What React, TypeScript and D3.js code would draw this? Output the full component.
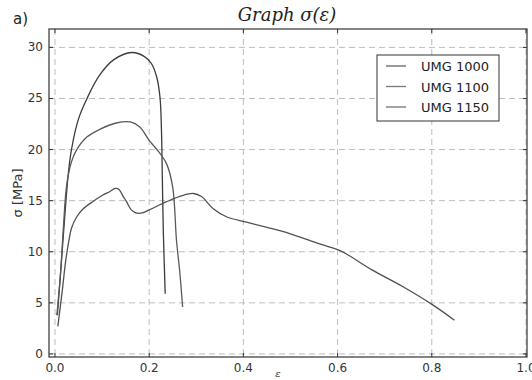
import React from "react";
import * as d3 from "d3";

const seriesNames = ["UMG 1000", "UMG 1100", "UMG 1150"];

const eps1000 = [0.005, 0.012, 0.02, 0.028, 0.035, 0.05, 0.068, 0.095, 0.125, 0.163, 0.19, 0.205, 0.216, 0.223, 0.226, 0.228, 0.23, 0.234];
const sig1000 = [3.8, 8.0, 13.0, 17.5, 20.0, 23.0, 25.0, 27.3, 28.8, 29.5, 29.1, 28.4, 27.1, 25.1, 22.0, 17.0, 12.0, 5.9];

const eps1100 = [0.004, 0.012, 0.018, 0.025, 0.035, 0.045, 0.067, 0.096, 0.13, 0.16, 0.18, 0.2, 0.22, 0.237, 0.25, 0.258, 0.265, 0.271];
const sig1100 = [3.8, 8.0, 12.5, 16.6, 18.8, 19.9, 21.2, 22.0, 22.6, 22.7, 22.2, 20.9, 19.8, 18.6, 16.3, 11.1, 8.0, 4.6];

const eps1150 = [0.006, 0.015, 0.023, 0.03, 0.035, 0.046, 0.06, 0.08, 0.1, 0.117, 0.128, 0.136, 0.145, 0.152, 0.162, 0.172, 0.185, 0.2, 0.237, 0.27, 0.294, 0.311, 0.336, 0.365, 0.407, 0.448, 0.483, 0.554, 0.6, 0.618, 0.674, 0.738, 0.802, 0.848];
const sig1150 = [2.7, 6.0, 9.2, 11.2, 12.3, 13.4, 14.2, 14.9, 15.5, 15.9, 16.2, 16.1, 15.4, 14.9, 14.1, 13.8, 13.8, 14.1, 14.9, 15.5, 15.7, 15.4, 14.2, 13.4, 12.9, 12.4, 12.0, 10.9, 10.2, 9.8, 8.2, 6.6, 4.8, 3.3];

const xTicks = [0, 0.2, 0.4, 0.6, 0.8, 1.0];
const yTicks = [0, 5, 10, 15, 20, 25, 30];

const seriesColors = ["#3c3c3c", "#595959", "#505050"];

export default function App() {
  const W = 532, H = 380;
  const L = 49, R = 527, T = 29, B = 357;
  const x = d3.scaleLinear().domain([-0.0127, 1.0]).range([L, 526]);
  const y = d3.scaleLinear().domain([-0.3, 31.8]).range([B, T]);
  const data = [
    eps1000.map((e, i) => [e, sig1000[i]]),
    eps1100.map((e, i) => [e, sig1100[i]]),
    eps1150.map((e, i) => [e, sig1150[i]]),
  ];
  const line = d3
    .line<number[]>()
    .x((d) => x(d[0]))
    .y((d) => y(d[1]))
    .curve(d3.curveCatmullRom.alpha(0.5));
  const font = "'DejaVu Sans', sans-serif";
  const tickFmt = d3.format(".1f");
  return (
    <svg width={W} height={H} style={{ position: "absolute", left: 0, top: 0, background: "#fff" }}>
      <rect x={0} y={0} width={W} height={H} fill="#fff" />
      {/* grid */}
      {xTicks.map((t) => (
        <line key={"gx" + t} x1={x(t)} x2={x(t)} y1={T} y2={B} stroke="#bdbdbd" strokeWidth={1} strokeDasharray="6,4" />
      ))}
      {yTicks.map((t) => (
        <line key={"gy" + t} x1={L} x2={R} y1={y(t)} y2={y(t)} stroke="#bdbdbd" strokeWidth={1} strokeDasharray="6,4" />
      ))}
      {/* lines */}
      {data.map((d, i) => (
        <path key={i} d={line(d) || ""} fill="none" stroke={seriesColors[i]} strokeWidth={1.3} />
      ))}
      {/* frame */}
      <rect x={L} y={T} width={R - L} height={B - T} fill="none" stroke="#333" strokeWidth={1.2} />
      {/* ticks */}
      {xTicks.map((t) => (
        <g key={"tx" + t}>
          <line x1={x(t)} x2={x(t)} y1={B} y2={B - 4} stroke="#333" />
          <line x1={x(t)} x2={x(t)} y1={T} y2={T + 4} stroke="#333" />
          <text x={x(t)} y={B + 15} fontSize={12} fontFamily={font} fill="#333" textAnchor="middle">
            {tickFmt(t)}
          </text>
        </g>
      ))}
      {yTicks.map((t) => (
        <g key={"ty" + t}>
          <line x1={L} x2={L + 4} y1={y(t)} y2={y(t)} stroke="#333" />
          <line x1={R} x2={R - 4} y1={y(t)} y2={y(t)} stroke="#333" />
          <text x={L - 6} y={y(t) + 4} fontSize={12} fontFamily={font} fill="#333" textAnchor="end">
            {t}
          </text>
        </g>
      ))}
      {/* labels */}
      <text x={13} y={24} fontSize={15} fontFamily={font} fill="#222">a)</text>
      <text x={287} y={21} fontSize={18} fontFamily="'DejaVu Serif', serif" fontStyle="italic" fill="#222" textAnchor="middle">
        Graph σ(ε)
      </text>
      <text x={278} y={377} fontSize={10} fontFamily="'DejaVu Serif', serif" fontStyle="italic" fill="#333" textAnchor="middle">ε</text>
      <text transform={`translate(22,${(T + B) / 2}) rotate(-90)`} fontSize={13} fontFamily={font} fill="#333" textAnchor="middle">
        σ [MPa]
      </text>
      {/* legend */}
      <rect x={377} y={55} width={122} height={66} fill="#fff" stroke="#333" strokeWidth={1} />
      {seriesNames.map((n, i) => (
        <g key={n}>
          <line x1={386} x2={406} y1={66 + i * 20.5} y2={66 + i * 20.5} stroke={seriesColors[i]} strokeWidth={1.3} opacity={0.8} />
          <text x={421} y={71 + i * 20.5} fontSize={13} fontFamily={font} fill="#222">{n}</text>
        </g>
      ))}
    </svg>
  );
}
